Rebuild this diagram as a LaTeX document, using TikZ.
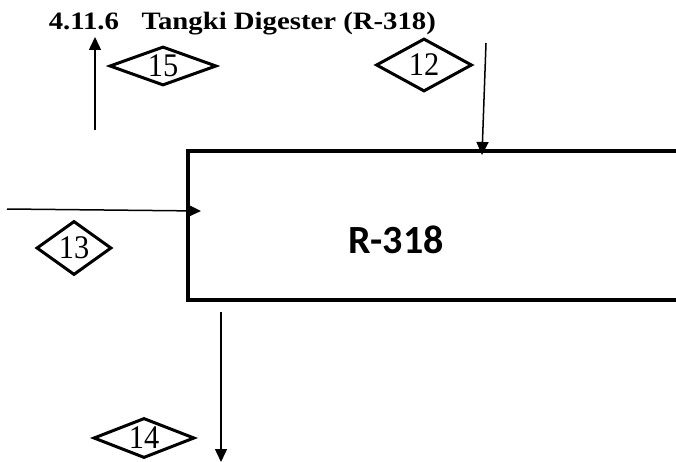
\documentclass[tikz,border=0pt]{standalone}
\usepackage{fontspec}
\setmainfont{Liberation Serif}
\newfontfamily\titlefont[FakeStretch=1.15]{Liberation Serif}
\newfontfamily\streamfont[FakeStretch=0.92]{Liberation Serif}
\newfontfamily\tankfont{Carlito}
\usetikzlibrary{shapes.geometric,arrows.meta}
\begin{document}
\begin{tikzpicture}[x=1pt,y=-1pt,line width=1.5pt,
  stream/.style={draw,diamond,aspect=1.8,line width=3pt,inner sep=0pt,font=\streamfont\fontsize{33}{33}\selectfont},
  flow/.style={-{Triangle[length=13pt,width=12pt]},line width=1.5pt}]
\useasboundingbox (0,0) rectangle (676,462);
\node[anchor=base west,inner sep=0pt,font=\titlefont\bfseries\fontsize{25}{25}\selectfont] (title) at (48,30) {4.11.6\hspace{0.9em}Tangki Digester (R-318)};
% tank
\draw[line width=4.8pt] (700,151) -- (188,151) -- (188,300) -- (700,300);
\node[font=\tankfont\bfseries\fontsize{40}{40}\selectfont] (tank) at (396,240) {R-318};
% streams
\node[stream,minimum width=107pt,minimum height=39pt] (s15) at (163,66) {15};
\node[stream,minimum width=96pt,minimum height=53pt] (s12) at (424,65) {12};
\node[stream,minimum width=75pt,minimum height=54pt] (s13) at (74,248) {13};
\node[stream,minimum width=101pt,minimum height=40pt] (s14) at (144,438) {14};
\coordinate (out15a) at (95,130);
\coordinate (out15b) at (95,37);
\coordinate (in12a) at (486,43);
\coordinate (in12b) at (482,155);
\coordinate (in13a) at (7,209);
\coordinate (in13b) at (201,211);
\coordinate (out14a) at (221,312);
\coordinate (out14b) at (221,462);
\draw[flow] (out15a) -- (out15b);
\draw[flow] (in12a) -- (in12b);
\draw[flow] (in13a) -- (in13b);
\draw[flow] (out14a) -- (out14b);
\end{tikzpicture}
\end{document}
